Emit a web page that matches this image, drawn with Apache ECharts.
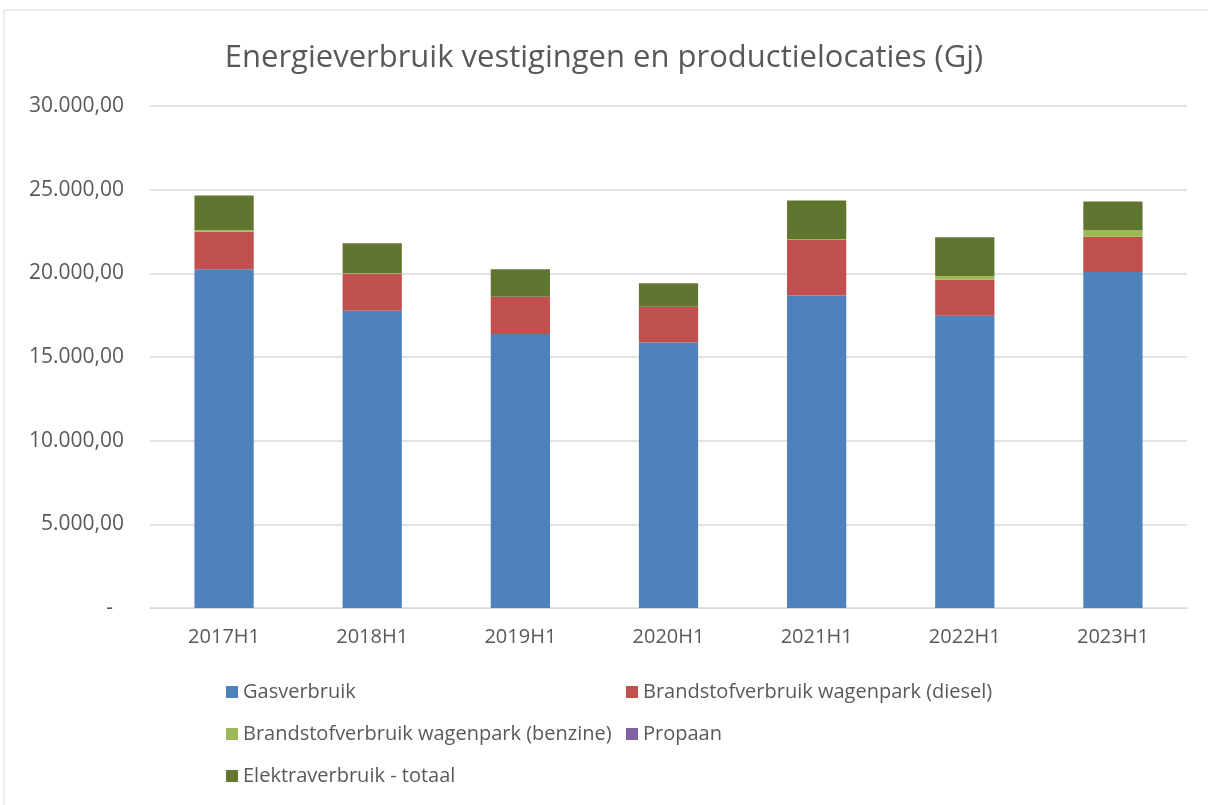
<!DOCTYPE html>
<html lang="nl">
<head>
    <meta charset="UTF-8">
    <title>Energieverbruik</title>
    <script src="https://cdn.jsdelivr.net/npm/echarts@6/dist/echarts.min.js"></script>
    <style>
        body { margin: 0; background: #fff; }
    </style>
</head>
<body>
    <div id="main" style="width:1208px;height:805px;"></div>

    <script>
    // gegevens
    var categories = ['2017H1', '2018H1', '2019H1', '2020H1', '2021H1', '2022H1', '2023H1'];
    var gas = [20240, 17770, 16370, 15860, 18670, 17470, 20080];
    var diesel = [2250, 2210, 2220, 2130, 3320, 2150, 2110];
    var benzine = [90, 20, 10, 10, 60, 220, 400];
    var propaan = [0, 0, 0, 0, 0, 0, 0];
    var elektra = [2070, 1800, 1650, 1410, 2310, 2310, 1710];
    var yTicks = [0, 5000, 10000, 15000, 20000, 25000, 30000];

    var textColor = '#595959';
    var font = '"Open Sans", sans-serif';

    function nlFormat(v) {
        if (v === 0) return '-  ';
        var s = v.toFixed(2).split('.');
        var whole = s[0].replace(/\B(?=(\d{3})+(?!\d))/g, '.');
        return whole + ',' + s[1];
    }

    function bar(name, data, color) {
        return {
            name: name,
            type: 'bar',
            stack: 'totaal',
            barWidth: '40%',
            data: data,
            itemStyle: { color: color },
            emphasis: { disabled: true }
        };
    }

    var legendText = { color: textColor, fontSize: 20, fontFamily: font };

    var myChart = echarts.init(document.getElementById('main'));
    myChart.setOption({
        animation: false,
        title: {
            text: 'Energieverbruik vestigingen en productielocaties (Gj)',
            left: 'center',
            top: 38,
            textStyle: { color: textColor, fontSize: 31, fontWeight: 'normal', fontFamily: font }
        },
        graphic: [{
            type: 'rect',
            shape: { x: 4, y: 10, width: 1220, height: 810 },
            style: { fill: 'none', stroke: '#d9d9d9', lineWidth: 1 }
        }],
        legend: [{
            orient: 'vertical',
            left: 221,
            top: 677,
            itemGap: 22,
            itemWidth: 12,
            itemHeight: 12,
            icon: 'rect',
            textStyle: legendText,
            data: ['Gasverbruik', 'Brandstofverbruik wagenpark (benzine)', 'Elektraverbruik - totaal']
        }, {
            orient: 'vertical',
            left: 621,
            top: 677,
            itemGap: 22,
            itemWidth: 12,
            itemHeight: 12,
            icon: 'rect',
            textStyle: legendText,
            data: ['Brandstofverbruik wagenpark (diesel)', 'Propaan']
        }],
        grid: { left: 150, right: 21, top: 106, bottom: 197, containLabel: false },
        xAxis: {
            type: 'category',
            data: categories,
            axisTick: { show: false },
            axisLine: { lineStyle: { color: '#d9d9d9' } },
            axisLabel: { color: textColor, fontSize: 20, fontFamily: font, margin: 19 }
        },
        yAxis: {
            type: 'value',
            min: yTicks[0],
            max: yTicks[yTicks.length - 1],
            interval: 5000,
            axisLine: { show: false },
            axisTick: { show: false },
            splitLine: { lineStyle: { color: '#d9d9d9', width: 1.5 } },
            axisLabel: { color: textColor, fontSize: 21, fontFamily: font, margin: 26, formatter: nlFormat }
        },
        series: [
            bar('Gasverbruik', gas, '#4f81bd'),
            bar('Brandstofverbruik wagenpark (diesel)', diesel, '#c0504d'),
            bar('Brandstofverbruik wagenpark (benzine)', benzine, '#9bbb59'),
            bar('Propaan', propaan, '#8064a2'),
            bar('Elektraverbruik - totaal', elektra, '#607530')
        ]
    });
    </script>
</body>
</html>
